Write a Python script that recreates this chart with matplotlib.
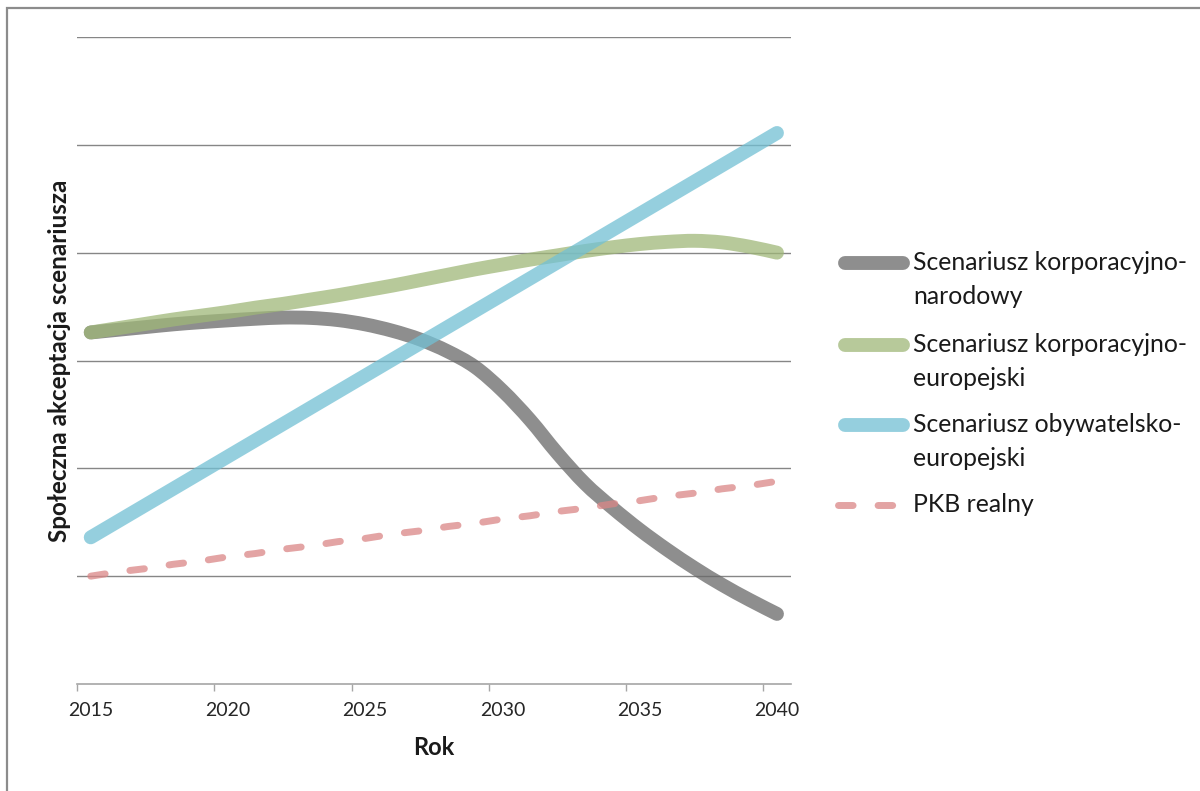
import matplotlib
matplotlib.use("Agg")
import matplotlib.pyplot as plt
from matplotlib.lines import Line2D
from matplotlib.patches import Rectangle, PathPatch
from matplotlib.path import Path

plt.rcParams["font.family"] = ["Lato", "DejaVu Sans"]

years = list(range(2015, 2041))

korp_narodowy = [3.26, 3.285, 3.31, 3.335, 3.355, 3.372, 3.387, 3.398, 3.395, 3.375,
                 3.335, 3.275, 3.195, 3.085, 2.94, 2.72, 2.45, 2.14, 1.86, 1.635,
                 1.43, 1.245, 1.075, 0.92, 0.78, 0.65]
korp_europejski = [3.26, 3.30, 3.34, 3.38, 3.415, 3.45, 3.49, 3.525, 3.565, 3.605,
                   3.65, 3.695, 3.745, 3.795, 3.845, 3.89, 3.935, 3.975, 4.015, 4.05,
                   4.08, 4.10, 4.11, 4.095, 4.055, 4.00]
obyw_europejski = [1.36, 1.51, 1.66, 1.81, 1.96, 2.11, 2.26, 2.41, 2.56, 2.71,
                   2.86, 3.01, 3.16, 3.31, 3.46, 3.61, 3.76, 3.91, 4.06, 4.21,
                   4.36, 4.51, 4.66, 4.81, 4.96, 5.11]
pkb_realny = [1.00, 1.04, 1.07, 1.11, 1.14, 1.18, 1.21, 1.25, 1.28, 1.32,
              1.35, 1.39, 1.42, 1.46, 1.49, 1.53, 1.56, 1.60, 1.63, 1.67,
              1.70, 1.74, 1.77, 1.81, 1.84, 1.88]

labels = ["Scenariusz korporacyjno-\nnarodowy",
          "Scenariusz korporacyjno-\neuropejski",
          "Scenariusz obywatelsko-\neuropejski",
          "PKB realny"]
tick_years = [2015, 2020, 2025, 2030, 2035, 2040]


def smooth_path(xs, ys):
    """Smoothed line through the points (cubic Bezier, Catmull-Rom style)."""
    pts = list(zip(xs, ys))
    n = len(pts)
    verts = [pts[0]]
    codes = [Path.MOVETO]
    for i in range(n - 1):
        p0 = pts[i - 1] if i > 0 else pts[i]
        p1 = pts[i]
        p2 = pts[i + 1]
        p3 = pts[i + 2] if i + 2 < n else pts[i + 1]
        c1 = (p1[0] + (p2[0] - p0[0]) / 6, p1[1] + (p2[1] - p0[1]) / 6)
        c2 = (p2[0] - (p3[0] - p1[0]) / 6, p2[1] - (p3[1] - p1[1]) / 6)
        verts += [c1, c2, p2]
        codes += [Path.CURVE4] * 3
    return Path(verts, codes)


W, H = 1200, 791
fig = plt.figure(figsize=(W / 100, H / 100), dpi=100)
fig.patch.set_facecolor("white")

# chart-area frame (only left and top edges fall inside the image)
fig.add_artist(Rectangle((7 / W, -0.05), 1.2, 1 - 8 / H + 0.05,
                         transform=fig.transFigure, fill=False,
                         edgecolor="#8c8c8c", linewidth=1.6))

ax = fig.add_axes([77 / W, 1 - 684 / H, (790.7 - 77) / W, (684 - 37) / H])
ax.set_xlim(2014.5, 2040.5)
ax.set_ylim(0, 6)

for s in ["left", "right", "top"]:
    ax.spines[s].set_visible(False)
ax.spines["bottom"].set_color("#a6a6a6")
ax.spines["bottom"].set_linewidth(1.2)

ax.set_yticks([1, 2, 3, 4, 5, 6])
ax.tick_params(axis="y", length=0, labelleft=False)
ax.yaxis.grid(True, color="#868686", linewidth=1.0)
ax.set_axisbelow(True)

ax.set_xticks([y - 0.5 for y in tick_years])
ax.set_xticklabels([])
ax.set_xticks(tick_years, minor=True)
ax.set_xticklabels([str(y) for y in tick_years], minor=True)
ax.tick_params(axis="x", which="major", length=5, width=1.0, color="#a6a6a6")
ax.tick_params(axis="x", which="minor", length=0, pad=13,
               labelsize=14, labelcolor="#262626")

colors = ["#686868", "#9fb778", "#72c0d4", "#da8686"]
ALPHA = 0.75
SOLID_LW = 10
DASH_LW = 5
DASH = (0, (2.1, 3.6))

solid_series = [korp_narodowy, korp_europejski, obyw_europejski]
for vals, c in zip(solid_series, colors[:3]):
    patch = PathPatch(smooth_path(years, vals), facecolor="none", edgecolor=c,
                      alpha=ALPHA, linewidth=SOLID_LW, capstyle="round",
                      joinstyle="round", transform=ax.transData)
    ax.add_patch(patch)

ax.plot(years, pkb_realny, color=colors[3], alpha=ALPHA, lw=DASH_LW,
        linestyle=DASH, dash_capstyle="round")

ax.set_xlabel("Rok", fontsize=17, fontweight="bold", color="#1a1a1a", labelpad=12)
ax.set_ylabel("Społeczna akceptacja scenariusza", fontsize=17.5,
              fontweight="bold", color="#1a1a1a", labelpad=4)

# legend drawn beside the plot area
rows_y = [263, 345, 425, 505]
line_gap = 34
for i_row, (lab, c, yp) in enumerate(zip(labels, colors, rows_y)):
    yf = 1 - yp / H
    if i_row == 3:
        fig.add_artist(Line2D([838 / W, 903 / W], [yf, yf], transform=fig.transFigure,
                              color=c, alpha=ALPHA, lw=DASH_LW, linestyle=DASH,
                              dash_capstyle="round"))
    else:
        fig.add_artist(Line2D([845 / W, 903 / W], [yf, yf], transform=fig.transFigure,
                              color=c, alpha=ALPHA, lw=SOLID_LW,
                              solid_capstyle="round"))
    for i, part in enumerate(lab.split("\n")):
        fig.text(913 / W, 1 - (yp + i * line_gap) / H, part, fontsize=17.8,
                 color="#1a1a1a", va="center", ha="left")

fig.savefig("out.png", dpi=100, facecolor="white")
